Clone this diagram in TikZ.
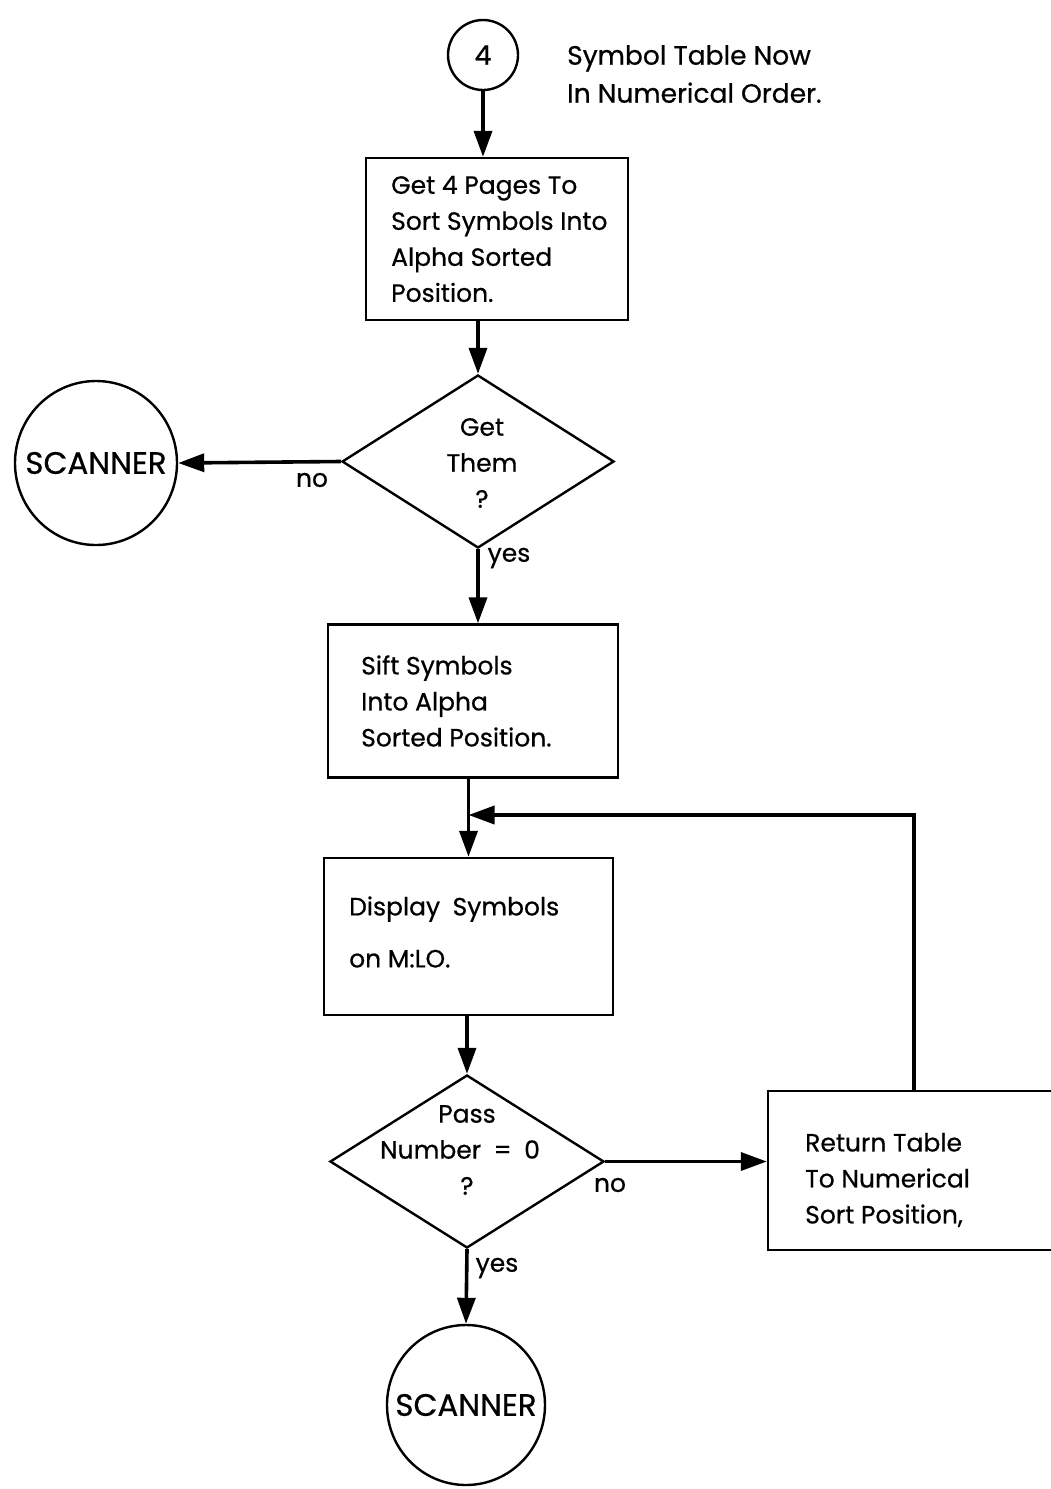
\documentclass[tikz,border=0pt]{standalone}
\usepackage{fontspec}
\setmainfont{Poppins}[FakeBold=0.6]
\usetikzlibrary{shapes.geometric,arrows.meta}
\begin{document}
\begin{tikzpicture}[x=1pt,y=-1pt,
  every node/.style={font=\fontsize{25}{36}\selectfont},
  frame/.style={draw,line width=2.4pt},
  procbox/.style={frame,rectangle,inner sep=0pt},
  decision/.style={frame,diamond,inner sep=0pt,minimum width=272pt,minimum height=173pt},
  terminal/.style={frame,ellipse,inner sep=0pt},
  caption/.style={inner sep=0pt,anchor=west,align=left},
  bigcaps/.style={inner sep=0pt,font=\fontsize{31}{36}\selectfont},
  flow/.style={line width=3.6pt,-{Triangle[length=26pt,width=18pt]}},
  lbl/.style={inner sep=0pt}
]
\useasboundingbox (0,0) rectangle (1051,1489);
\clip (0,0) rectangle (1051,1489);

% connector and note
\node[terminal,minimum width=70pt,minimum height=70pt,font=\fontsize{27}{36}\selectfont] (c4) at (483,55) {4};
\node[caption,font=\fontsize{26.5}{38}\selectfont] (note) at (567,74) {Symbol Table Now\\In Numerical Order.};

% process boxes and their texts
\node[procbox,minimum width=262pt,minimum height=162pt] (b1) at (497,239) {};
\node[caption] (b1t) at (391,239) {Get 4 Pages To\\Sort Symbols Into\\Alpha Sorted\\Position.};
\node[procbox,minimum width=290pt,minimum height=153pt] (b2) at (473,701) {};
\node[caption] (b2t) at (361,701) {Sift Symbols\\Into Alpha\\Sorted Position.};
\node[procbox,minimum width=289pt,minimum height=157pt] (b3) at (468.5,936.5) {};
\node[caption] (b3t) at (349,932) {Display\enspace Symbols\\[16pt]on M:LO.};
\node[procbox,minimum width=292pt,minimum height=159pt] (b4) at (914,1170.5) {};
\node[caption] (b4t) at (805,1180) {Return Table\\To Numerical\\Sort Position,};

% decisions
\node[decision] (d1) at (478,461.5) {};
\node[lbl,align=center] (d1t) at (482,463) {Get\\Them\\?};
\node[decision,minimum width=274pt] (d2) at (467,1161.5) {};
\node[lbl,align=center] (d2t) at (460,1150) {\hspace*{14pt}Pass\\Number\enspace=\enspace0\\\hspace*{14pt}?};

% terminals
\node[terminal,minimum width=162pt,minimum height=164pt] (s1) at (96,463) {};
\node[bigcaps] (s1t) at (s1.center) {SCANNER};
\node[terminal,minimum width=158pt,minimum height=160pt] (s2) at (466,1405) {};
\node[bigcaps] (s2t) at (s2.center) {SCANNER};

% branch labels
\node[lbl] (no1) at (312,480) {no};
\node[lbl] (yes1) at (509,558) {yes};
\node[lbl] (no2) at (610,1185) {no};
\node[lbl] (yes2) at (497,1268) {yes};

% loop join point
\coordinate (join) at (b3.north |- 0,815);

% flow lines
\draw[flow] (c4.south) -- (c4.south |- b1.north);
\draw[flow] (d1.north |- b1.south) -- (d1.north);
\draw[flow] (d1.west) -- (s1.east);
\draw[flow] (d1.south) -- (d1.south |- b2.north);
\draw[flow] (b3.north |- b2.south) -- (b3.north);
\draw[flow] (b4.north) -- (b4.north |- join) -- (join);
\draw[flow] (d2.north |- b3.south) -- (d2.north);
\draw[flow] (d2.east) -- (d2.east -| b4.west);
\draw[flow] (d2.south) -- (s2.north);
\end{tikzpicture}
\end{document}
